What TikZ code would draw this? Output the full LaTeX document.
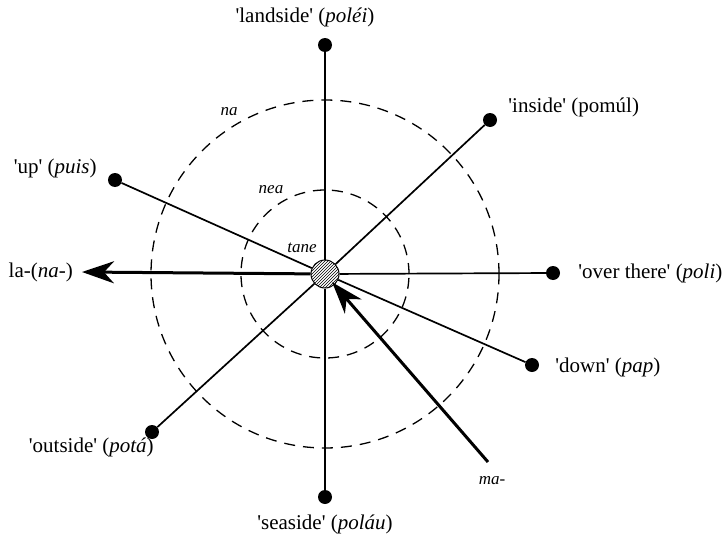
\documentclass[tikz,border=0pt]{standalone}
\usepackage{fontspec}
\setmainfont{Liberation Serif}
\usetikzlibrary{arrows.meta, positioning, patterns}
\newcommand{\sq}{\textquotesingle}

\begin{document}
\begin{tikzpicture}[
    x=1pt, y=-1pt,
    % End points of the spokes
    dot/.style={circle, fill=black, inner sep=0pt, minimum size=14pt},
    hub/.style={circle, draw, line width=1pt, pattern=north east lines, minimum size=28pt, inner sep=0pt},
    spoke/.style={line width=1.7pt},
    ring/.style={line width=1.3pt, dash pattern=on 11pt off 8pt},
    bigarrow/.style={line width=3pt, -{Stealth[length=32pt, width=22pt, inset=10pt]}},
    % Typography helpers
    lbl/.style={font=\fontsize{21}{25}\selectfont, inner sep=1pt},
    ringlbl/.style={font=\fontsize{17}{20}\selectfont\itshape, inner sep=1pt}
]
    \useasboundingbox (0,0) rectangle (724,541);

    % ==========================================
    % 1. HUB AND RINGS
    % ==========================================
    \node[hub] (c) at (325,274) {};
    \draw[ring] (c.center) circle[radius=174pt];
    \draw[ring] (c.center) circle[radius=84pt];

    \node[ringlbl] (na) at (229,112) {na};
    \node[ringlbl] (nea) at (271,190) {nea};
    \node[ringlbl] (tane) at (302,248) {tane};

    % ==========================================
    % 2. SPOKES
    % ==========================================
    \node[dot] (land) at (325,45) {};
    \node[dot] (ins) at (490,120) {};
    \node[dot] (up) at (115,180) {};
    \node[dot] (over) at (553,273) {};
    \node[dot] (down) at (532,365) {};
    \node[dot] (out) at (152,432) {};
    \node[dot] (sea) at (325,497) {};

    \foreach \d in {land, ins, up, over, down, out, sea}
        \draw[spoke] (c) -- (\d);

    \node[lbl, above=10pt of land, xshift=-20pt] (landlbl) {\sq landside\sq{} (\textit{poléi})};
    \node[lbl, right=10pt of ins, yshift=13pt, anchor=west] (inslbl) {\sq inside\sq{} (pomúl)};
    \node[lbl, left=10pt of up, yshift=12pt] (uplbl) {\sq up\sq{} (\textit{puis})};
    \node[lbl, right=17pt of over] (overlbl) {\sq over there\sq{} (\textit{poli})};
    \node[lbl, right=15pt of down, yshift=-2pt] (downlbl) {\sq down\sq{} (\textit{pap})};
    \node[lbl, below left=0pt and -8pt of out] (outlbl) {\sq outside\sq{} (\textit{potá})};
    \node[lbl, below=10pt of sea] (sealbl) {\sq seaside\sq{} (\textit{poláu})};

    % ==========================================
    % 3. PREFIX ARROWS
    % ==========================================
    \coordinate (laend) at (82,272);
    \draw[bigarrow] (c) -- (laend);
    \node[lbl, left=8pt of laend] (la) {la-(\textit{na-})};

    \coordinate (mastart) at (488,462);
    \draw[bigarrow, shorten >=11pt] (mastart) -- (c.center);
    \node[ringlbl] (ma) at (492,481) {ma-};

\end{tikzpicture}
\end{document}
